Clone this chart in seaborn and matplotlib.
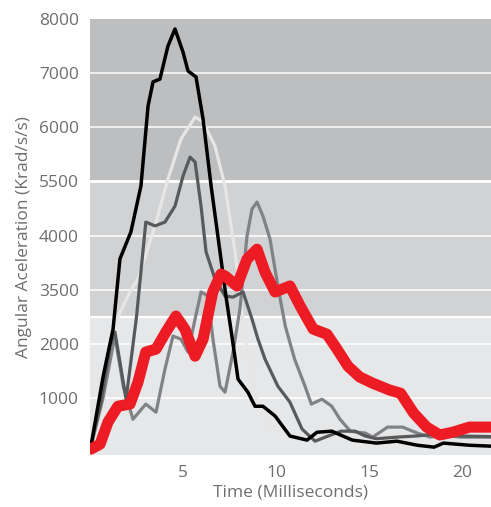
import matplotlib.pyplot as plt
import seaborn as sns
import pandas as pd

# values (time in ms, acceleration in krad/s/s)
time_black = [0.05, 0.7, 1.24, 1.61, 2.2, 2.74, 3.12, 3.39, 3.76, 4.19, 4.57, 5.0, 5.27, 5.7,
              6.08, 6.51, 6.99, 7.31, 7.63, 7.96, 8.49, 8.87, 9.3, 9.95, 10.75, 11.67, 12.2,
              13.0, 14.1, 15.4, 16.5, 17.6, 18.5, 19.0, 20.4, 21.56]
accel_black = [110, 1390, 2275, 3570, 4070, 4920, 6390, 6840, 6890, 7500, 7815, 7390, 7040, 6930,
               6150, 4920, 3700, 2880, 2145, 1350, 1110, 850, 850, 670, 300, 225, 370,
               390, 225, 170, 205, 130, 95, 170, 130, 113]

time_light = [0.05, 0.7, 1.24, 1.5, 2.2, 2.58, 3.0, 3.5, 4.19, 4.89, 5.65, 6.08, 6.72, 7.26,
              7.8, 8.17, 8.6, 9.0, 9.6, 10.5, 12.0, 15.0, 18.0, 21.56]
accel_light = [110, 1350, 2280, 2500, 3000, 3200, 3650, 4180, 5045, 5785, 6190, 6100, 5655, 4915,
               3700, 2590, 1600, 900, 500, 350, 300, 330, 320, 300]

time_dark = [0.05, 0.59, 1.08, 1.34, 1.61, 1.94, 2.5, 3.0, 3.5, 4.03, 4.57, 5.0, 5.38, 5.65,
             5.97, 6.24, 6.72, 7.26, 7.69, 8.23, 8.71, 9.03, 9.41, 10.1, 10.75, 11.4, 12.1,
             12.8, 13.5, 14.25, 14.8, 15.4, 16.5, 17.5, 18.5, 20.0, 21.56]
accel_dark = [113, 925, 1960, 2220, 1665, 980, 2500, 4250, 4180, 4250, 4545, 5100, 5450, 5360,
              4545, 3700, 3200, 2885, 2865, 2960, 2460, 2090, 1720, 1220, 925, 430, 205,
              300, 390, 390, 300, 250, 280, 300, 330, 300, 290]

time_mid = [0.05, 0.7, 1.34, 1.8, 2.31, 3.0, 3.55, 4.03, 4.46, 4.89, 5.27, 5.65, 5.97, 6.34,
            6.61, 6.99, 7.26, 7.69, 8.06, 8.44, 8.71, 8.98, 9.3, 9.68, 10.1, 10.5, 11.0, 11.56,
            11.9, 12.47, 13.0, 13.44, 14.0, 14.4, 14.8, 15.2, 16.0, 16.8, 17.6, 18.3, 19.0,
            19.9, 21.56]
accel_mid = [113, 1000, 2150, 1200, 610, 890, 740, 1535, 2145, 2090, 1850, 2460, 2960, 2885,
             2090, 1220, 1110, 1850, 2645, 3990, 4490, 4620, 4360, 3935, 3070, 2330, 1720, 1220,
             890, 980, 850, 610, 390, 370, 355, 280, 465, 465, 355, 280, 315,
             280, 280]

time_red = [0.05, 0.54, 0.97, 1.5, 2.15, 2.58, 3.0, 3.55, 4.08, 4.62, 5.1, 5.65, 6.08, 6.6,
            7.04, 7.26, 7.9, 8.44, 8.98, 9.41, 9.95, 10.75, 11.3, 12.0, 12.74, 13.28, 13.87,
            14.5, 15.2, 16.1, 16.7, 17.4, 18.1, 18.8, 19.5, 20.4, 21.56]
accel_red = [60, 150, 560, 850, 890, 1295, 1850, 1905, 2220, 2515, 2275, 1775, 2090, 2960,
             3290, 3255, 3070, 3565, 3750, 3325, 2960, 3070, 2700, 2275, 2180, 1905, 1590,
             1390, 1275, 1150, 1090, 725, 465, 320, 370, 465, 465]

tick_pos = [1000, 2000, 3000, 4000, 5000, 6000, 7000, 8000]
tick_labels = ["1000", "2000", "3500", "4000", "5500", "6000", "7000", "8000"]
x_ticks = [5, 10, 15, 20]

sns.set_style("white")
plt.rcParams['font.family'] = ['Open Sans', 'DejaVu Sans']

fig = plt.figure(figsize=(4.91, 5.07), dpi=100)
ax = fig.add_axes([90 / 491, 52 / 507, 401 / 491, 436 / 507])

# shaded bands
ax.axhspan(5000, 8000, color='#bdbec0', zorder=0, lw=0)
ax.axhspan(2500, 5000, color='#d1d2d4', zorder=0, lw=0)
ax.axhspan(-100, 2500, color='#e6e7e8', zorder=0, lw=0)
for t in tick_pos[:-1]:
    ax.axhline(t, color='white', lw=2.0 if t == 5000 else 1.1, zorder=1)
ax.axhline(2500, color='white', lw=1.6, zorder=1)

series = [
    (time_light, accel_light, '#e6e6e6', 2.3),
    (time_mid, accel_mid, '#808285', 2.3),
    (time_dark, accel_dark, '#58595b', 2.3),
    (time_black, accel_black, '#000000', 2.5),
    (time_red, accel_red, '#ed1c24', 8.0),
]
for xs, ys, col, lw in series:
    df = pd.DataFrame({'Time': xs, 'Accel': ys})
    sns.lineplot(data=df, x='Time', y='Accel', color=col, linewidth=lw, ax=ax,
                 solid_joinstyle='round', zorder=3)

ax.set_xlim(0, 21.56)
ax.set_ylim(-50, 8000)
ax.set_xticks(x_ticks)
ax.set_yticks(tick_pos)
ax.set_yticklabels(tick_labels)
ax.tick_params(axis='both', length=0, labelsize=12.5, colors='#6d6e71')
ax.tick_params(axis='y', pad=8)
ax.tick_params(axis='x', pad=7)
for s in ax.spines.values():
    s.set_visible(False)
ax.set_xlabel('Time (Milliseconds)', fontsize=12.5, color='#6d6e71', labelpad=3)
ax.set_ylabel('Angular Aceleration (Krad/s/s)', fontsize=12.5, color='#6d6e71', labelpad=5)
ax.grid(False)

fig.savefig('out.png', dpi=100)
